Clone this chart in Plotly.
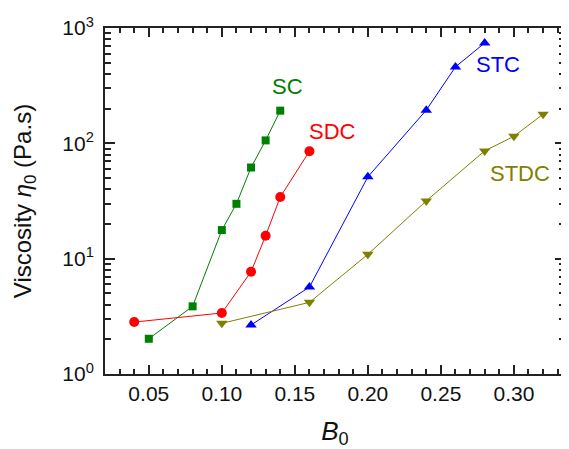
import numpy as np
import plotly.graph_objects as go

# Data
sc_x = [0.05, 0.08, 0.10, 0.11, 0.12, 0.13, 0.14]
sc_y = [2.02, 3.86, 17.7, 29.9, 61.7, 106, 192]

sdc_x = [0.04, 0.10, 0.12, 0.13, 0.14, 0.16]
sdc_y = [2.82, 3.38, 7.7, 15.8, 34.2, 85.5]

stc_x = [0.12, 0.16, 0.20, 0.24, 0.26, 0.28]
stc_y = [2.66, 5.67, 51.2, 194, 460, 742]

stdc_x = [0.10, 0.16, 0.20, 0.24, 0.28, 0.30, 0.32]
stdc_y = [2.75, 4.18, 10.9, 31.7, 86, 115, 179]

series_names = ["SC", "SDC", "STC", "STDC"]
label_x = [0.145, 0.176, 0.289, 0.304]
label_y = [313, 127, 482, 54.7]

x_tickvals = [0.05, 0.10, 0.15, 0.20, 0.25, 0.30]
x_ticktext = ["0.05", "0.10", "0.15", "0.20", "0.25", "0.30"]
y_tickvals = [1, 10, 100, 1000]
y_ticktext = ["10<sup>0</sup>", "10<sup>1</sup>", "10<sup>2</sup>", "10<sup>3</sup>"]

FONT = "Arial, Liberation Sans, sans-serif"
colors = ["#008000", "#FF0000", "#0000FF", "#808000"]
symbols = ["square", "circle", "triangle-up", "triangle-down"]
sizes = [8, 10, 10, 10]

fig = go.Figure()
for xs, ys, c, s, sz, nm in zip([sc_x, sdc_x, stc_x, stdc_x],
                                [sc_y, sdc_y, stc_y, stdc_y],
                                colors, symbols, sizes, series_names):
    fig.add_trace(go.Scatter(x=xs, y=ys, mode="lines+markers", name=nm,
                             line=dict(color=c, width=1),
                             marker=dict(symbol=s, size=sz, color=c)))

for nm, lx, ly, c in zip(series_names, label_x, label_y, colors):
    fig.add_annotation(x=lx, y=np.log10(ly), text=nm, showarrow=False,
                       font=dict(family=FONT, size=22, color=c),
                       xanchor="center", yanchor="middle")

fig.update_xaxes(range=[0.02, 0.335], tickvals=x_tickvals, ticktext=x_ticktext,
                 automargin=False,
                 ticks="inside", ticklen=9, tickwidth=1.5, tickcolor="#222",
                 showline=True, linewidth=2, linecolor="#222", mirror="ticks",
                 showgrid=False, zeroline=False,
                 tickfont=dict(family=FONT, size=21, color="#111"),
                 minor=dict(ticks="inside", ticklen=5, tickwidth=1.5, tickcolor="#222", dtick=0.01, showgrid=False),
                 title=dict(text="<i>B</i><sub>0</sub>", font=dict(family=FONT, size=26, color="#111"), standoff=18))

fig.update_yaxes(type="log", range=[0, 3], tickvals=y_tickvals, ticktext=y_ticktext,
                 automargin=False, ticklabelstandoff=5,
                 ticks="inside", ticklen=10, tickwidth=1.5, tickcolor="#222",
                 showline=True, linewidth=2, linecolor="#222", mirror="ticks",
                 showgrid=False, zeroline=False,
                 tickfont=dict(family=FONT, size=21, color="#111"),
                 minor=dict(ticks="inside", ticklen=6, tickwidth=1.5, tickcolor="#222", dtick="D1", showgrid=False),
                 title=dict(text="Viscosity <i>η</i><sub>0</sub> (Pa.s)", font=dict(family=FONT, size=24, color="#111"), standoff=24))

# page body has an 8px margin; shrink figure so the plot lands where the reference has it
fig.update_layout(width=561, height=441, showlegend=False,
                  margin=dict(l=97, r=4, t=20, b=75, autoexpand=False),
                  plot_bgcolor="white", paper_bgcolor="white")

fig.write_html("out.html")
